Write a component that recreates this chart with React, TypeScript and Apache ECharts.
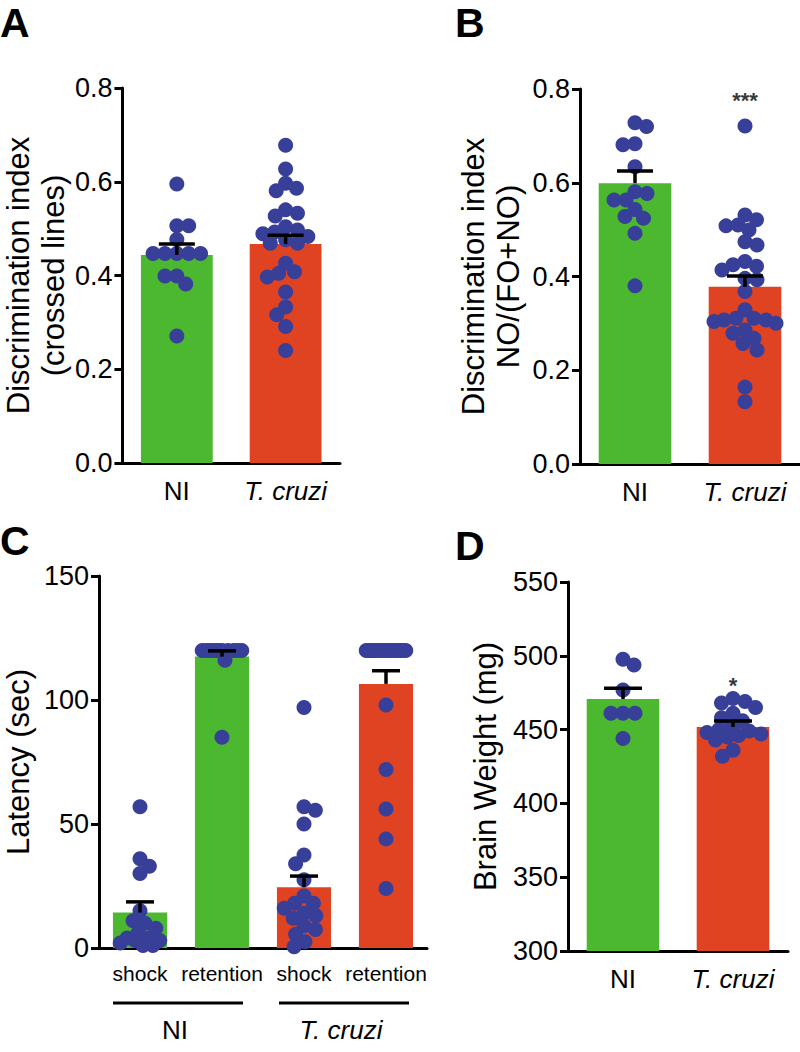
import React, { useEffect, useRef } from "react";
import * as echarts from "echarts";

// ---------- DATA ----------
const groupCats = ["NI", "T. cruzi"];

// Panel A: Discrimination index (crossed lines)
const aYTicks = [0, 0.2, 0.4, 0.6, 0.8];
const aMeans = [0.444, 0.467];
const aSems = [0.023, 0.019];
const aDotsNI = [0.595, 0.506, 0.506, 0.477, 0.447, 0.447, 0.447, 0.447, 0.447, 0.399, 0.399, 0.382, 0.271];
const aDotsTc = [0.678, 0.627, 0.597, 0.586, 0.581, 0.54, 0.533, 0.527, 0.504, 0.497, 0.493, 0.489, 0.483, 0.476, 0.469, 0.469, 0.426, 0.408, 0.405, 0.397, 0.365, 0.333, 0.316, 0.291, 0.24];

// Panel B: Discrimination index NO/(FO+NO)
const bYTicks = [0, 0.2, 0.4, 0.6, 0.8];
const bMeans = [0.599, 0.378];
const bSems = [0.026, 0.023];
const bDotsNI = [0.728, 0.72, 0.683, 0.681, 0.634, 0.581, 0.577, 0.563, 0.563, 0.543, 0.528, 0.524, 0.492, 0.38];
const bDotsTc = [0.721, 0.531, 0.521, 0.51, 0.508, 0.499, 0.474, 0.467, 0.432, 0.425, 0.422, 0.414, 0.396, 0.393, 0.368, 0.329, 0.311, 0.311, 0.307, 0.307, 0.304, 0.3, 0.286, 0.279, 0.268, 0.257, 0.243, 0.164, 0.133];
const bSig = [{ cat: 1, y: 0.775, text: "***" }];

// Panel C: Latency (sec)
const cYTicks = [0, 50, 100, 150];
const cCats = ["shock", "retention", "shock", "retention"];
const cGroups = ["NI", "T. cruzi"];
const cMeans = [14.3, 117.5, 24.5, 106.5];
const cSems = [4.3, 2.3, 4.5, 5.3];
const cDotsNIShock = [57, 36, 33, 30, 15, 11, 10, 8, 6, 4, 4, 3, 3, 2, 1, 1];
const cDotsNIRet = [120, 120, 120, 120, 120, 120, 120, 120, 120, 120, 120, 116, 85];
const cDotsTcShock = [97, 57, 55.5, 50, 37.5, 34, 27.5, 21, 18, 18, 16, 14, 13, 12, 9, 7.5, 5.5, 2.5, 0.5];
const cDotsTcRet = [120, 120, 120, 120, 120, 120, 120, 120, 120, 120, 120, 120, 120, 120, 120, 120, 120, 120, 98, 72, 56, 44, 24];

// Panel D: Brain Weight (mg)
const dYTicks = [300, 350, 400, 450, 500, 550];
const dMeans = [470.7, 451.8];
const dSems = [7.3, 4.0];
const dDotsNI = [497.6, 493.8, 476.8, 461, 461, 461, 444];
const dDotsTc = [471, 469, 468, 465, 461, 458, 456, 452, 450, 449, 448, 447, 446, 445, 443, 436, 432];
const dSig = [{ cat: 1, y: 480, text: "*" }];

// ---------- STYLE ----------
const FONT = '"Liberation Sans", Arial, Helvetica, sans-serif';
const GREEN = "#4cb82f";
const RED = "#e04321";
const DOT = "#373f99";
const DOT_SIZE = 15;

function swarm(values: number[], pxPerUnit: number, d: number, maxHalf: number): number[] {
  const idx = values.map((_, i) => i).sort((a, b) => values[b] - values[a]);
  const placed: { x: number; y: number }[] = [];
  const out = new Array(values.length).fill(0);
  const minD = d * 0.8;
  let flip = 1;
  for (const i of idx) {
    const y = values[i] * pxPerUnit;
    let best: number | null = null;
    for (let k = 0; k <= maxHalf && best === null; k += 0.5) {
      const signs = k === 0 ? [1] : [flip, -flip];
      for (const s of signs) {
        const x = s * k;
        if (placed.every((p) => (p.x - x) ** 2 + (p.y - y) ** 2 >= minD * minD)) {
          best = x;
          break;
        }
      }
    }
    if (best === null) {
      let score = -1;
      for (let x = -maxHalf; x <= maxHalf; x += 0.5) {
        const m = Math.min(...placed.map((p) => Math.hypot(p.x - x, p.y - y)));
        if (m > score) {
          score = m;
          best = x;
        }
      }
    }
    if (best !== 0) flip = -flip;
    placed.push({ x: best as number, y });
    out[i] = best;
  }
  return out;
}

const panels = [
  {
    grid: { left: 120, top: 88, width: 220, height: 375 },
    cats: groupCats, ticks: aYTicks, means: aMeans, sems: aSems,
    dots: [aDotsNI, aDotsTc], colors: [GREEN, RED],
    name: "Discrimination index\n(crossed lines)", nameGap: 50,
    fmt: (v: number) => v.toFixed(1), capHalf: 18, maxHalf: 31, labelSize: 26, sig: [] as any[],
  },
  {
    grid: { left: 580, top: 89, width: 220, height: 375 },
    cats: groupCats, ticks: bYTicks, means: bMeans, sems: bSems,
    dots: [bDotsNI, bDotsTc], colors: [GREEN, RED],
    name: "Discrimination index\nNO/(FO+NO)", nameGap: 54,
    fmt: (v: number) => v.toFixed(1), capHalf: 18, maxHalf: 31, labelSize: 26, sig: bSig,
  },
  {
    grid: { left: 95, top: 576, width: 332, height: 372 },
    cats: cCats, ticks: cYTicks, means: cMeans, sems: cSems,
    dots: [cDotsNIShock, cDotsNIRet, cDotsTcShock, cDotsTcRet], colors: [GREEN, GREEN, RED, RED],
    name: "Latency (sec)", nameGap: 63,
    fmt: (v: number) => String(v), capHalf: 14, maxHalf: 20, labelSize: 21, sig: [] as any[],
  },
  {
    grid: { left: 568, top: 582, width: 220, height: 369 },
    cats: groupCats, ticks: dYTicks, means: dMeans, sems: dSems,
    dots: [dDotsNI, dDotsTc], colors: [GREEN, RED],
    name: "Brain Weight (mg)", nameGap: 65,
    fmt: (v: number) => String(v), capHalf: 19, maxHalf: 30, labelSize: 26, sig: dSig,
  },
];

function buildOption() {
  const grids: any[] = [];
  const xAxes: any[] = [];
  const yAxes: any[] = [];
  const series: any[] = [];
  panels.forEach((p, gi) => {
    const n = p.cats.length;
    const min = p.ticks[0];
    const max = p.ticks[p.ticks.length - 1];
    const interval = p.ticks[1] - p.ticks[0];
    grids.push({ ...p.grid, containLabel: false });
    const catAxis = xAxes.length;
    xAxes.push({
      type: "category", gridIndex: gi, data: p.cats,
      axisLine: { onZero: false, lineStyle: { color: "#000", width: 3 } },
      axisTick: { show: false },
      axisLabel: {
        interval: 0, margin: 15, color: "#000", fontSize: p.labelSize, fontFamily: FONT,
        formatter: (v: string) => (v === "T. cruzi" ? "{i|T. cruzi}" : v),
        rich: { i: { fontStyle: "italic", fontSize: p.labelSize, fontFamily: FONT, color: "#000" } },
      },
    });
    const valAxis = xAxes.length;
    xAxes.push({ type: "value", gridIndex: gi, min: -0.5, max: n - 0.5, show: false });
    yAxes.push({
      type: "value", gridIndex: gi, min, max, interval,
      name: p.name, nameLocation: "middle", nameGap: p.nameGap,
      nameTextStyle: { fontSize: 31, lineHeight: 35, color: "#000", fontFamily: FONT },
      axisLine: { show: true, onZero: false, lineStyle: { color: "#000", width: 3 } },
      axisTick: { show: true, length: 8, lineStyle: { color: "#000", width: 3 } },
      axisLabel: { margin: 10, fontSize: 27, color: "#000", fontFamily: FONT, formatter: p.fmt },
      splitLine: { show: false },
    });
    series.push({
      type: "bar", xAxisIndex: catAxis, yAxisIndex: gi, barWidth: "66%", clip: true, z: 2,
      data: p.means.map((m, i) => ({ value: m, itemStyle: { color: p.colors[i] } })),
    });
    const pxPerUnit = p.grid.height / (max - min);
    const band = p.grid.width / n;
    const pts: number[][] = [];
    p.dots.forEach((vals, ci) => {
      const offs = swarm(vals, pxPerUnit, DOT_SIZE, p.maxHalf);
      vals.forEach((v, k) => pts.push([ci + offs[k] / band, v]));
    });
    series.push({
      type: "scatter", xAxisIndex: valAxis, yAxisIndex: gi, data: pts, symbolSize: DOT_SIZE,
      itemStyle: { color: DOT, opacity: 1 }, clip: false, z: 3,
    });
    const capHalf = p.capHalf;
    series.push({
      type: "custom", xAxisIndex: catAxis, yAxisIndex: gi, z: 4, clip: false,
      encode: { x: 0, y: 1 },
      data: p.means.map((m, i) => [i, m, p.sems[i]]),
      renderItem: (params: any, api: any) => {
        const x = api.value(0);
        const m = api.value(1);
        const s = api.value(2);
        const a = api.coord([x, m]);
        const b = api.coord([x, m + s]);
        return {
          type: "group",
          children: [
            { type: "line", shape: { x1: a[0], y1: a[1], x2: b[0], y2: b[1] }, style: { stroke: "#000", lineWidth: 3.5 } },
            { type: "line", shape: { x1: b[0] - capHalf, y1: b[1], x2: b[0] + capHalf, y2: b[1] }, style: { stroke: "#000", lineWidth: 3.5 } },
          ],
        };
      },
    });
    if (p.sig.length) {
      series.push({
        type: "scatter", xAxisIndex: valAxis, yAxisIndex: gi, z: 5, symbolSize: 1,
        itemStyle: { color: "rgba(0,0,0,0)" },
        data: p.sig.map((s: any) => ({ value: [s.cat, s.y], label: { formatter: s.text } })),
        label: { show: true, position: "inside", color: "#000", fontSize: 22, fontWeight: "bold", fontFamily: FONT },
      });
    }
  });

  // Panel letters and panel C group annotation
  const letter = (t: string, x: number, y: number) => ({
    type: "text", x, y,
    style: { text: t, fill: "#000", font: `bold 41px ${FONT}`, align: "left", verticalAlign: "middle" },
  });
  const cg = panels[2].grid;
  const cBand = cg.width / cCats.length;
  const groupEls: any[] = [];
  cGroups.forEach((g, gi) => {
    const center = cg.left + cBand * (gi * 2 + 1);
    groupEls.push({
      type: "line", shape: { x1: center - 65, y1: 1003, x2: center + 65, y2: 1003 },
      style: { stroke: "#000", lineWidth: 3 },
    });
    groupEls.push({
      type: "text", x: center - 3, y: 1030,
      style: {
        text: g, fill: "#000", align: "center", verticalAlign: "middle",
        font: `${g === "T. cruzi" ? "italic " : ""}26px ${FONT}`,
      },
    });
  });

  return {
    animation: false,
    backgroundColor: "#fff",
    grid: grids,
    xAxis: xAxes,
    yAxis: yAxes,
    series,
    graphic: [letter("A", 0, 23), letter("B", 455, 23), letter("C", 0, 541), letter("D", 455, 546), ...groupEls],
  };
}

export default function App() {
  const ref = useRef<HTMLDivElement>(null);
  useEffect(() => {
    document.body.style.margin = "0";
    if (!ref.current) return;
    const chart = echarts.init(ref.current, undefined, { renderer: "svg" });
    chart.setOption(buildOption() as any);
    return () => chart.dispose();
  }, []);
  return <div ref={ref} style={{ width: 800, height: 1052, position: "absolute", left: 0, top: 0 }} />;
}
